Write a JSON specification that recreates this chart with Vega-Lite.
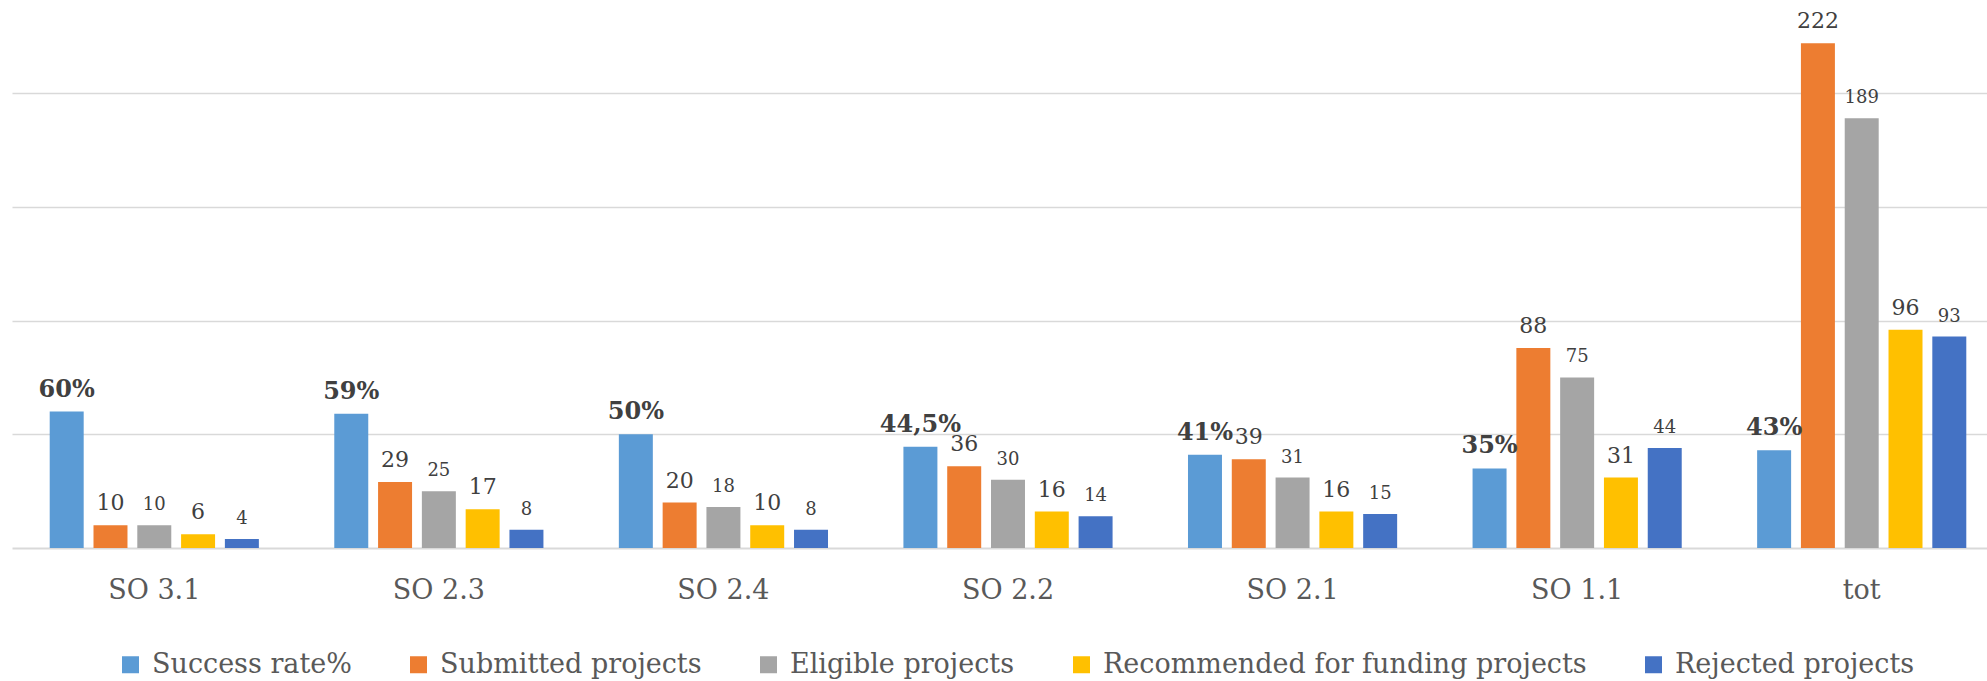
{
  "$schema": "https://vega.github.io/schema/vega-lite/v6.json",
  "width": 1975,
  "height": 548,
  "autosize": {"type": "none"},
  "padding": {"left": 12, "top": 0, "right": 0, "bottom": 133},
  "background": "#FFFFFF",
  "config": {"view": {"stroke": null}, "font": "DejaVu Serif"},
  "data": {
    "values": [
      {"cat": "SO 3.1", "series": "Success rate%", "value": 60, "label": "60%"},
      {"cat": "SO 3.1", "series": "Submitted projects", "value": 10, "label": "10"},
      {"cat": "SO 3.1", "series": "Eligible projects", "value": 10, "label": "10"},
      {"cat": "SO 3.1", "series": "Recommended for funding projects", "value": 6, "label": "6"},
      {"cat": "SO 3.1", "series": "Rejected projects", "value": 4, "label": "4"},
      {"cat": "SO 2.3", "series": "Success rate%", "value": 59, "label": "59%"},
      {"cat": "SO 2.3", "series": "Submitted projects", "value": 29, "label": "29"},
      {"cat": "SO 2.3", "series": "Eligible projects", "value": 25, "label": "25"},
      {"cat": "SO 2.3", "series": "Recommended for funding projects", "value": 17, "label": "17"},
      {"cat": "SO 2.3", "series": "Rejected projects", "value": 8, "label": "8"},
      {"cat": "SO 2.4", "series": "Success rate%", "value": 50, "label": "50%"},
      {"cat": "SO 2.4", "series": "Submitted projects", "value": 20, "label": "20"},
      {"cat": "SO 2.4", "series": "Eligible projects", "value": 18, "label": "18"},
      {"cat": "SO 2.4", "series": "Recommended for funding projects", "value": 10, "label": "10"},
      {"cat": "SO 2.4", "series": "Rejected projects", "value": 8, "label": "8"},
      {"cat": "SO 2.2", "series": "Success rate%", "value": 44.5, "label": "44,5%"},
      {"cat": "SO 2.2", "series": "Submitted projects", "value": 36, "label": "36"},
      {"cat": "SO 2.2", "series": "Eligible projects", "value": 30, "label": "30"},
      {"cat": "SO 2.2", "series": "Recommended for funding projects", "value": 16, "label": "16"},
      {"cat": "SO 2.2", "series": "Rejected projects", "value": 14, "label": "14"},
      {"cat": "SO 2.1", "series": "Success rate%", "value": 41, "label": "41%"},
      {"cat": "SO 2.1", "series": "Submitted projects", "value": 39, "label": "39"},
      {"cat": "SO 2.1", "series": "Eligible projects", "value": 31, "label": "31"},
      {"cat": "SO 2.1", "series": "Recommended for funding projects", "value": 16, "label": "16"},
      {"cat": "SO 2.1", "series": "Rejected projects", "value": 15, "label": "15"},
      {"cat": "SO 1.1", "series": "Success rate%", "value": 35, "label": "35%"},
      {"cat": "SO 1.1", "series": "Submitted projects", "value": 88, "label": "88"},
      {"cat": "SO 1.1", "series": "Eligible projects", "value": 75, "label": "75"},
      {"cat": "SO 1.1", "series": "Recommended for funding projects", "value": 31, "label": "31"},
      {"cat": "SO 1.1", "series": "Rejected projects", "value": 44, "label": "44"},
      {"cat": "tot", "series": "Success rate%", "value": 43, "label": "43%"},
      {"cat": "tot", "series": "Submitted projects", "value": 222, "label": "222"},
      {"cat": "tot", "series": "Eligible projects", "value": 189, "label": "189"},
      {"cat": "tot", "series": "Recommended for funding projects", "value": 96, "label": "96"},
      {"cat": "tot", "series": "Rejected projects", "value": 93, "label": "93"}
    ]
  },
  "encoding": {
    "x": {
      "field": "cat",
      "type": "nominal",
      "sort": ["SO 3.1", "SO 2.3", "SO 2.4", "SO 2.2", "SO 2.1", "SO 1.1", "tot"],
      "scale": {"range": [0, 1992], "paddingInner": 0.265, "paddingOuter": 0.1325},
      "axis": {
        "title": null,
        "labelAngle": 0,
        "ticks": false,
        "tickSize": 0,
        "domainColor": "#D9D9D9",
        "domainWidth": 2,
        "labelFont": "DejaVu Serif",
        "labelFontSize": 27,
        "labelColor": "#595959",
        "labelPadding": 50,
        "labelBaseline": "alphabetic"
      }
    },
    "xOffset": {
      "field": "series",
      "type": "nominal",
      "sort": ["Success rate%", "Submitted projects", "Eligible projects", "Recommended for funding projects", "Rejected projects"],
      "scale": {"paddingInner": 0.224, "paddingOuter": 0}
    },
    "y": {
      "field": "value",
      "type": "quantitative",
      "scale": {"domain": [0, 241], "nice": false},
      "axis": {
        "title": null,
        "labels": false,
        "ticks": false,
        "domain": false,
        "grid": true,
        "values": [50, 100, 150, 200],
        "gridColor": "#D9D9D9",
        "gridWidth": 1.5
      }
    }
  },
  "layer": [
    {
      "mark": {"type": "bar"},
      "encoding": {
        "color": {
          "field": "series",
          "type": "nominal",
          "scale": {
            "domain": ["Success rate%", "Submitted projects", "Eligible projects", "Recommended for funding projects", "Rejected projects"],
            "range": ["#5B9BD5", "#ED7D31", "#A5A5A5", "#FFC000", "#4472C4"]
          },
          "legend": {
            "title": null,
            "orient": "none",
            "legendX": 105,
            "legendY": 651,
            "direction": "horizontal",
            "symbolType": "square",
            "symbolSize": 289,
            "symbolStrokeWidth": 0,
            "labelFont": "DejaVu Serif",
            "labelFontSize": 27,
            "labelColor": "#595959",
            "labelOffset": 8,
            "labelLimit": 1000,
            "columnPadding": 53,
            "padding": 0
          }
        }
      }
    },
    {
      "transform": [{"filter": "datum.series === 'Success rate%'"}],
      "mark": {"type": "text", "baseline": "alphabetic", "dy": -15, "fontSize": 24, "fontWeight": "bold", "color": "#404040", "font": "DejaVu Serif"},
      "encoding": {"text": {"field": "label"}}
    },
    {
      "transform": [{"filter": "datum.series === 'Submitted projects' || datum.series === 'Recommended for funding projects'"}],
      "mark": {"type": "text", "baseline": "alphabetic", "dy": -15, "fontSize": 22, "color": "#404040", "font": "DejaVu Serif"},
      "encoding": {"text": {"field": "label"}}
    },
    {
      "transform": [{"filter": "datum.series === 'Eligible projects' || datum.series === 'Rejected projects'"}],
      "mark": {"type": "text", "baseline": "alphabetic", "dy": -15, "fontSize": 18, "color": "#404040", "font": "DejaVu Serif"},
      "encoding": {"text": {"field": "label"}}
    }
  ]
}
